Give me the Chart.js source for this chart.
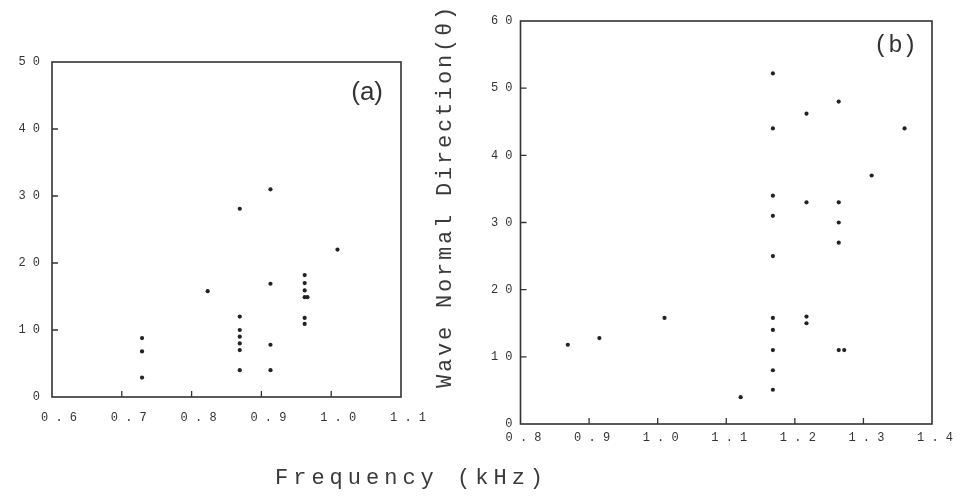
<!DOCTYPE html>
<html>
<head>
<meta charset="utf-8">
<script src="https://cdn.jsdelivr.net/npm/chart.js@4.4.1/dist/chart.umd.min.js"></script>
<style>
  html, body { margin: 0; padding: 0; background: #fff; }
  #page { position: relative; width: 969px; height: 497px; overflow: hidden; background: #fff; }
  #boxA { position: absolute; left: 0; top: 0; width: 440px; height: 440px; }
  #boxB { position: absolute; left: 460px; top: 0; width: 509px; height: 470px; }
  .ttl { position: absolute; font-family: "Liberation Mono", "DejaVu Sans Mono", monospace; color: #3a3a3a; white-space: nowrap; }
  #xTitle { left: 275px; top: 466px; font-size: 22px; letter-spacing: 5px; line-height: 26px; }
  #yTitle { left: 433px; top: 4px; height: 390px; width: 26px; font-size: 22px; letter-spacing: 2.8px; line-height: 26px;
            writing-mode: vertical-rl; transform: rotate(180deg); text-align: end; }
</style>
</head>
<body>
<div id="page">
  <div id="boxA"><canvas id="chartA"></canvas></div>
  <div id="boxB"><canvas id="chartB"></canvas></div>
  <div class="ttl" id="yTitle">Wave Normal Direction(θ)</div>
  <div class="ttl" id="xTitle">Frequency (kHz)</div>
</div>
<script>
// panel (a)
var aFreq  = [0.729, 0.729, 0.729, 0.823, 0.869, 0.869, 0.869, 0.869, 0.869, 0.869, 0.869,
              0.913, 0.913, 0.913, 0.913, 0.962, 0.962, 0.962, 0.962, 0.966, 0.962, 0.962, 1.009];
var aAngle = [8.8, 6.8, 2.9, 15.8, 28.1, 12, 10, 9, 8, 7, 4,
              31, 16.9, 7.8, 4, 18.2, 17, 15.9, 14.9, 14.9, 11.8, 10.9, 22];
var aXTicks = [0.6, 0.7, 0.8, 0.9, 1.0, 1.1];
var aYTicks = [0, 10, 20, 30, 40, 50];

// panel (b)
var bFreq  = [0.869, 0.915, 1.010, 1.121,
              1.168, 1.168, 1.168, 1.168, 1.168, 1.168, 1.168, 1.168, 1.168, 1.168,
              1.217, 1.217, 1.217, 1.217,
              1.264, 1.264, 1.264, 1.264, 1.264, 1.272, 1.312, 1.360];
var bAngle = [11.8, 12.8, 15.8, 4.0,
              52.2, 44, 34, 31, 25, 15.8, 14, 11, 8, 5.1,
              46.2, 33, 16, 15,
              48, 33, 30, 27, 11, 11, 37, 44];
var bXTicks = [0.8, 0.9, 1.0, 1.1, 1.2, 1.3, 1.4];
var bYTicks = [0, 10, 20, 30, 40, 50, 60];

var ink = '#333';
var tickFont = { family: '"Liberation Mono", monospace', size: 12 };

// spaced digits like the typewriter labels: "0.7" -> "0 . 7"
function spaced(s) { return String(s).split('').join(' '); }

// box frame, inward tick marks and the panel letter
var framePlugin = {
  id: 'frame',
  afterDatasetsDraw: function(chart, args, opts) {
    var ctx = chart.ctx, ca = chart.chartArea;
    var xs = chart.scales.x, ys = chart.scales.y;
    ctx.save();
    ctx.strokeStyle = ink;
    ctx.lineWidth = 1.6;
    ctx.strokeRect(ca.left, ca.top, ca.right - ca.left, ca.bottom - ca.top);
    ctx.lineWidth = 1.3;
    ctx.beginPath();
    xs.ticks.forEach(function(t, i) {
      if (i == 0 || i == xs.ticks.length - 1) return;
      var px = xs.getPixelForValue(t.value);
      ctx.moveTo(px, ca.bottom);
      ctx.lineTo(px, ca.bottom - 6);
    });
    ys.ticks.forEach(function(t, i) {
      if (i == 0 || i == ys.ticks.length - 1) return;
      var py = ys.getPixelForValue(t.value);
      ctx.moveTo(ca.left, py);
      ctx.lineTo(ca.left + 6, py);
    });
    ctx.stroke();
    ctx.fillStyle = ink;
    ctx.font = opts.font;
    ctx.textAlign = 'right';
    ctx.textBaseline = 'middle';
    ctx.fillText(opts.text, ca.right - opts.dx, ca.top + opts.dy);
    ctx.restore();
  }
};

function makeChart(id, freq, angle, xTicks, yTicks, o) {
  var pts = [];
  for (var i = 0; i < freq.length; i++) pts.push({ x: freq[i], y: angle[i] });
  return new Chart(document.getElementById(id), {
    type: 'scatter',
    data: {
      datasets: [{
        data: pts,
        pointRadius: 2.1,
        pointHoverRadius: 2.1,
        pointBackgroundColor: '#222',
        pointBorderWidth: 0
      }]
    },
    options: {
      responsive: true,
      maintainAspectRatio: false,
      animation: false,
      events: [],
      layout: { padding: { left: 0, right: o.padRight, top: o.padTop, bottom: 0 } },
      plugins: {
        legend: { display: false },
        tooltip: { enabled: false },
        frame: { text: o.letter, font: o.letterFont, dx: o.letterDx, dy: o.letterDy }
      },
      scales: {
        x: {
          type: 'linear',
          min: xTicks[0], max: xTicks[xTicks.length - 1],
          afterBuildTicks: function(s) { s.ticks = xTicks.map(function(v) { return { value: v }; }); },
          afterFit: function(s) { s.height = o.xHeight; },
          grid: { display: false, drawTicks: false },
          border: { display: false },
          ticks: {
            font: tickFont, color: ink, padding: o.xPad, labelOffset: o.xOffset,
            maxRotation: 0, autoSkip: false,
            callback: function(v) { return spaced(Number(v).toFixed(1)); }
          }
        },
        y: {
          type: 'linear',
          min: yTicks[0], max: yTicks[yTicks.length - 1],
          afterBuildTicks: function(s) { s.ticks = yTicks.map(function(v) { return { value: v }; }); },
          afterFit: function(s) { s.width = o.yWidth; },
          grid: { display: false, drawTicks: false },
          border: { display: false },
          ticks: {
            font: tickFont, color: ink, padding: o.yPad, autoSkip: false,
            callback: function(v) { return spaced(v); }
          }
        }
      }
    },
    plugins: [framePlugin]
  });
}

makeChart('chartA', aFreq, aAngle, aXTicks, aYTicks, {
  padRight: 39, padTop: 62, xHeight: 43, yWidth: 52,
  xPad: 14, xOffset: 7, yPad: 12,
  letter: '(a)', letterFont: '26px "Liberation Sans", Arial, sans-serif', letterDx: 18, letterDy: 31
});

makeChart('chartB', bFreq, bAngle, bXTicks, bYTicks, {
  padRight: 37, padTop: 21, xHeight: 46, yWidth: 60.5,
  xPad: 7, xOffset: 3, yPad: 8,
  letter: '(b)', letterFont: '24px "Liberation Mono", monospace', letterDx: 15, letterDy: 25
});
</script>
</body>
</html>
